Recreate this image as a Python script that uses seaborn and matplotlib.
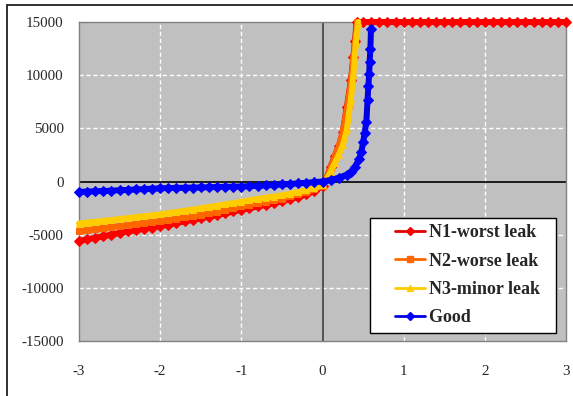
import pandas as pd
import matplotlib.pyplot as plt
import seaborn as sns
from matplotlib.lines import Line2D
from matplotlib.legend_handler import HandlerLine2D

# x grid of the measured points (negative side)
x_neg = [-3.0, -2.9, -2.8, -2.7, -2.6, -2.5, -2.4, -2.3, -2.2, -2.1, -2.0,
         -1.9, -1.8, -1.7, -1.6, -1.5, -1.4, -1.3, -1.2, -1.1, -1.0,
         -0.9, -0.8, -0.7, -0.6, -0.5, -0.4, -0.3, -0.2, -0.1, 0.0]

# N1 - worst leak
n1_neg = [-5600, -5450, -5300, -5150, -5000, -4850, -4700, -4580, -4450, -4330, -4200,
          -4050, -3900, -3750, -3600, -3450, -3300, -3150, -3000, -2820, -2650,
          -2500, -2350, -2200, -2050, -1850, -1650, -1450, -1200, -900, -450]
n1_pos_x = [0.05, 0.1, 0.15, 0.2, 0.25, 0.3, 0.35, 0.38, 0.4, 0.42,
            0.5, 0.6, 0.7, 0.8, 0.9, 1.0, 1.1, 1.2, 1.3, 1.4, 1.5, 1.6, 1.7, 1.8,
            1.9, 2.0, 2.1, 2.2, 2.3, 2.4, 2.5, 2.6, 2.7, 2.8, 2.9, 3.0]
n1_pos = [350, 1400, 2400, 3300, 4700, 7000, 9500, 11700, 13200, 15000,
          15000, 15000, 15000, 15000, 15000, 15000, 15000, 15000, 15000, 15000, 15000, 15000, 15000, 15000,
          15000, 15000, 15000, 15000, 15000, 15000, 15000, 15000, 15000, 15000, 15000, 15000]

# N2 - worse leak
n2_neg = [-4700, -4600, -4500, -4400, -4300, -4200, -4100, -4000, -3900, -3830, -3750,
          -3620, -3500, -3370, -3250, -3120, -3000, -2850, -2700, -2520, -2350,
          -2200, -2050, -1900, -1750, -1600, -1400, -1200, -1000, -750, -400]
n2_pos_x = [0.05, 0.1, 0.15, 0.2, 0.25, 0.3, 0.35, 0.38, 0.4, 0.43]
n2_pos = [300, 1300, 2300, 3300, 4700, 6800, 9300, 11500, 13000, 15000]

# N3 - minor leak
n3_neg = [-3950, -3870, -3780, -3700, -3620, -3530, -3450, -3350, -3270, -3180, -3100,
          -2980, -2870, -2750, -2640, -2520, -2400, -2280, -2150, -2030, -1900,
          -1780, -1650, -1530, -1420, -1300, -1150, -1000, -820, -620, -350]
n3_pos_x = [0.05, 0.1, 0.15, 0.2, 0.25, 0.3, 0.35, 0.38, 0.41, 0.44]
n3_pos = [200, 900, 1700, 2500, 3400, 4900, 7800, 10000, 13000, 15000]

# Good
good_neg = [-980, -950, -920, -890, -860, -820, -790, -750, -710, -680, -640,
            -620, -600, -590, -570, -560, -540, -520, -500, -490, -470,
            -440, -410, -370, -320, -280, -230, -180, -120, -60, 0]
good_pos_x = [0.1, 0.2, 0.3, 0.35, 0.4, 0.45, 0.48, 0.5, 0.52, 0.54,
              0.555, 0.565, 0.575, 0.58, 0.59, 0.597]
good_pos = [150, 350, 650, 900, 1400, 2100, 2800, 3700, 4600, 5600,
            7700, 9000, 10100, 11200, 12500, 14300]

labels = ['N1-worst leak', 'N2-worse leak', 'N3-minor leak', 'Good']
x_ticks = [-3, -2, -1, 0, 1, 2, 3]
y_ticks = [-15000, -10000, -5000, 0, 5000, 10000, 15000]

series = [
    (labels[0], x_neg + n1_pos_x, n1_neg + n1_pos, '#FF0000', '#E00000', 'D', 5),
    (labels[1], x_neg + n2_pos_x, n2_neg + n2_pos, '#FF6600', '#FF6600', 's', 4.5),
    (labels[2], x_neg + n3_pos_x, n3_neg + n3_pos, '#FFCC00', '#FFCC00', '^', 5),
    (labels[3], x_neg + good_pos_x, good_neg + good_pos, '#0000FF', '#0000E0', 'D', 5),
]


class ShiftedHandler(HandlerLine2D):
    # leave some empty room left of the legend line, like Excel does
    def create_artists(self, legend, orig_handle, xdescent, ydescent, width,
                       height, fontsize, trans):
        off = width * 0.36
        return super().create_artists(legend, orig_handle, xdescent - off, ydescent,
                                      width - off, height, fontsize, trans)


sns.set_style('white')
plt.rcParams['font.family'] = ['Liberation Serif', 'DejaVu Serif']

fig = plt.figure(figsize=(5.73, 3.96), dpi=100)
ax = fig.add_axes([0.1379, 0.1389, 0.8499, 0.8055])
ax.set_facecolor('#C0C0C0')

# grid
for gx in [-2, -1, 1, 2]:
    ax.axvline(gx, color='white', lw=1, ls=(0, (3, 2)), zorder=1)
for gy in [-10000, -5000, 5000, 10000]:
    ax.axhline(gy, color='white', lw=1, ls=(0, (3, 2)), zorder=1)
ax.axhline(0, color='black', lw=1.2, zorder=2)
ax.axvline(0, color='#404040', lw=1.2, zorder=2)

handles = []
for name, xs, ys, mcol, lcol, mk, ms in series:
    df = pd.DataFrame({'x': xs, 'y': ys})
    sns.lineplot(data=df, x='x', y='y', ax=ax, color=lcol, lw=4.3, marker=mk,
                 markersize=ms, markerfacecolor=mcol, markeredgecolor=mcol,
                 estimator=None, sort=False, zorder=3, clip_on=False)
    handles.append(Line2D([], [], color=lcol, lw=2, marker=mk, markersize=4.5,
                          markerfacecolor=mcol, markeredgecolor=mcol))

ax.set_xlim(-3, 3)
ax.set_ylim(-15000, 15000)
ax.set_xticks(x_ticks)
ax.set_xticklabels([str(v) for v in x_ticks])
ax.set_yticks(y_ticks)
ax.set_yticklabels([str(v) for v in y_ticks])
ax.tick_params(axis='x', length=0, pad=17, labelsize=10.8)
ax.tick_params(axis='y', length=0, pad=11, labelsize=10.8)
ax.set_xlabel('')
ax.set_ylabel('')
for sp in ax.spines.values():
    sp.set_color('#808080')
    sp.set_linewidth(1)

leg = ax.legend(handles, [lab + '  ' for lab in labels], loc='lower right',
                bbox_to_anchor=(0.9795, 0.025), borderaxespad=0,
                prop={'weight': 'bold', 'size': 13}, frameon=True, fancybox=False,
                edgecolor='black', facecolor='white', framealpha=1,
                handlelength=2.67, handletextpad=0.22, labelspacing=0.63,
                borderpad=0.37,
                handler_map={Line2D: ShiftedHandler()})
leg.get_frame().set_linewidth(1)
leg.set_zorder(5)

# outer chart border
fig.add_artist(Line2D([7 / 573, 7 / 573], [0, 1 - 5 / 396], color='#202020', lw=1.3))
fig.add_artist(Line2D([7 / 573, 1], [1 - 5 / 396, 1 - 5 / 396], color='#202020', lw=1.3))

fig.savefig('out.png', dpi=100)
